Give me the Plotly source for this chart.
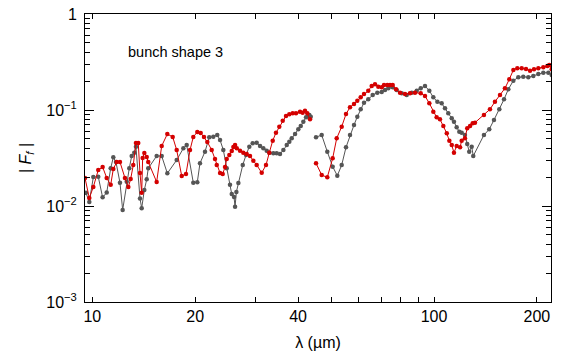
import math
import plotly.graph_objects as go

# wavelength (um) and form factor magnitude, red series (None = gap)
lam_red = [9.52, 9.80, 10.07, 10.41, 10.72, 11.02, 11.32, 11.52, 11.79, 12.05, 12.46, 12.75, 12.95, 13.18,
           13.42, 13.63, 13.79, 13.95, 14.04, 14.20, 14.43, 14.58, 15.43, 15.96, 16.58, 17.19, 17.66, 18.27,
           18.80, 19.32, 19.75, 20.29, 20.76, 21.23, 21.71, 22.36, 22.86, 23.13, 23.65, 24.08, 24.46, 24.74,
           25.18, 25.59, 25.87, 26.17, 26.47, 27.06, 27.66, 28.30, 28.94, 29.60, 30.28, 31.32, 32.24, 32.96,
           33.73, 34.48, 35.26, 36.08, 36.89, 37.72, 38.59, 39.46, 40.53, 41.27, 41.93, 42.58, 43.36, None,
           45.16, 46.92, 48.72, 50.52, 51.91, 53.69, 55.27, 56.78, 58.33, 59.64, 61.02, 62.40, 64.22, 65.72,
           67.20, 68.71, 70.31, 71.40, 72.99, 74.33, 75.70, 77.41, 79.52, 82.24, 85.07, 87.99, 91.44, 94.13,
           96.90, 99.54, 101.8, 104.1, 106.5, 109.0, 110.9, 112.7, 114.4, 116.5, 119.2, 120.5, 123.2, 125.1,
           127.5, 129.8, 131.8, 140.0, 145.8, 150.8, 156.0, 161.3, 166.1, 170.7, 175.3, 180.6, 185.9, 191.0,
           196.2, 202.0, 208.9, 214.6, 217.5, 221.1]
F_red = [0.0196, 0.0121, 0.0158, 0.0237, 0.0255, 0.0196, 0.0166, 0.0243, 0.0287, 0.0287, 0.0196, 0.0158,
         0.0191, 0.0267, 0.0453, 0.0453, 0.0221, 0.0137, 0.0316, 0.0356, 0.0324, 0.0287, 0.0178, 0.0422,
         0.0562, 0.0524, 0.0383, 0.0205, 0.0215, 0.0383, 0.0524, 0.0590, 0.0576, 0.0524, 0.0464, 0.0383,
         0.0309, 0.0267, 0.0221, 0.0215, 0.0255, 0.0309, 0.0340, 0.0374, 0.0412, 0.0432, 0.0399, 0.0377,
         0.0359, 0.0348, 0.0332, 0.0296, 0.0267, 0.0222, 0.0267, 0.0359, 0.0479, 0.0580, 0.0670, 0.0774,
         0.0866, 0.0902, 0.0924, 0.0924, 0.0959, 0.0937, 0.0984, 0.0924, 0.0800, None,
         0.0279, 0.0210, 0.0199, 0.0314, 0.0507, 0.0670, 0.0908, 0.1067, 0.1155, 0.1250, 0.1356, 0.1468,
         0.1589, 0.1778, 0.1853, 0.1750, 0.1723, 0.182, 0.182, 0.182, 0.182, 0.1643, 0.1514, 0.1468,
         0.1493, 0.1514, 0.1493, 0.140, 0.1174, 0.0959, 0.0839, 0.0800, 0.0681, 0.0572, 0.0479, 0.0432,
         0.0359, 0.0422, 0.0409, 0.0479, 0.0507, 0.0645, 0.0681, 0.0727, 0.0738, 0.0887, 0.1017, 0.122,
         0.1433, 0.1683, 0.2089, 0.261, 0.272, 0.272, 0.267, 0.257, 0.2655, 0.272, 0.2786, 0.287, 0.294,
         0.2655]

# gray series
lam_gray = [9.58, 9.80, 10.07, 10.41, 10.72, 11.02, 11.32, 11.52, 11.73, 12.05, 12.27, 12.61, 12.83, 13.04,
            13.27, 13.42, 13.79, 13.95, 14.20, 14.43, 14.58, 15.43, 15.96, 16.58, 17.66, 18.47, 18.89, 19.75,
            20.29, 20.66, 21.37, 21.99, 22.60, 23.21, 23.65, 24.18, 24.74, 25.29, 25.59, 25.99, 26.17, 26.40,
            26.76, 27.56, 28.18, 28.81, 29.47, 30.28, 30.97, 31.66, 32.39, 32.96, 33.86, 34.64, 35.43, 36.24,
            37.08, 37.72, 38.34, 39.21, 40.08, 40.74, 41.46, 42.22, 42.71, 43.17, 43.58, None,
            45.16, 46.92, 48.72, 50.52, 52.12, 53.69, 55.27, 56.78, 58.33, 59.64, 61.02, 62.40, 64.22, 66.16,
            68.26, 70.31, 71.89, 73.50, 75.70, 77.76, 80.45, 83.20, 86.06, 89.03, 91.44, 94.13, 96.90, 99.54,
            102.3, 105.3, 107.7, 110.1, 112.7, 114.4, 116.5, 118.6, 120.5, 123.2, 125.1, 126.8, 128.9, 130.3,
            140.0, 145.1, 149.8, 155.3, 160.3, 165.0, 170.7, 176.5, 182.5, 188.8, 195.3, 202.0, 208.9, 216.1,
            221.1]
F_gray = [0.0137, 0.0110, 0.0200, 0.0202, 0.0123, 0.0138, 0.0247, 0.0322, 0.0287, 0.0175, 0.0091, 0.0179,
          0.0247, 0.0332, 0.0359, 0.0415, 0.0120, 0.0095, 0.0147, 0.0190, 0.0247, 0.0332, 0.0332, 0.0219,
          0.0301, 0.0399, 0.0432, 0.0175, 0.0177, 0.0279, 0.0368, 0.0520, 0.0527, 0.0549, 0.0487, 0.0383,
          0.0247, 0.0166, 0.0133, 0.0124, 0.0098, 0.0140, 0.0174, 0.0267, 0.0340, 0.0415, 0.0450, 0.0457,
          0.0422, 0.0399, 0.0377, 0.0359, 0.0354, 0.0354, 0.0348, 0.0383, 0.0432, 0.0468, 0.0507, 0.0562,
          0.0630, 0.0681, 0.0755, 0.0839, 0.0866, 0.0887, 0.0851, None,
          0.0520, 0.0549, 0.0368, 0.0257, 0.0207, 0.0267, 0.0409, 0.0549, 0.0698, 0.0851, 0.1017, 0.1192,
          0.1292, 0.1433, 0.1514, 0.154, 0.1616, 0.1683, 0.1723, 0.1616, 0.1493, 0.1433, 0.1514, 0.1589,
          0.1683, 0.1778, 0.1589, 0.1356, 0.122, 0.1174, 0.1042, 0.0924, 0.0820, 0.0755, 0.0661, 0.0594,
          0.058, 0.0549, 0.0443, 0.0368, 0.0415, 0.0332, 0.0549, 0.0630, 0.0787, 0.1017, 0.1292, 0.1643,
          0.2018, 0.219, 0.2223, 0.219, 0.226, 0.237, 0.2447, 0.2447, 0.2314]

x_tickvals = [10, 20, 40, 100, 200]
x_ticktext = ["10", "20", "40", "100", "200"]
x_minor = [30, 50, 60, 70, 80, 90]
x_long = [10, 100]
y_tickvals = [1e-3, 1e-2, 1e-1, 1]
y_ticktext = ["10<sup>\u22123</sup>", "10<sup>\u22122</sup>", "10<sup>\u22121</sup>", "1"]
y_minor = [m * 10.0 ** e for e in (-3, -2, -1) for m in range(2, 10)]
x_range = [9.52, 220]
y_range = [1e-3, 1]

FONT = "Liberation Sans, Arial, sans-serif"
RED = "#d40000"
GRAY = "#555555"

fig = go.Figure()
fig.add_trace(go.Scatter(x=lam_gray, y=F_gray, mode="lines+markers",
                         line=dict(color=GRAY, width=1), marker=dict(color=GRAY, size=4.5),
                         connectgaps=False, showlegend=False, hoverinfo="skip"))
fig.add_trace(go.Scatter(x=lam_red, y=F_red, mode="lines+markers",
                         line=dict(color=RED, width=1), marker=dict(color=RED, size=4.5),
                         connectgaps=False, showlegend=False, hoverinfo="skip"))

xr = [math.log10(v) for v in x_range]
yr = [math.log10(v) for v in y_range]

fig.update_layout(
    width=561, height=355,
    margin=dict(l=85, r=10, t=14, b=53),
    paper_bgcolor="white", plot_bgcolor="white",
    font=dict(family=FONT, size=16, color="black"),
    xaxis=dict(type="log", range=xr, tickvals=x_tickvals, ticktext=x_ticktext, automargin=False,
               ticks="inside", ticklen=5, tickwidth=1, tickcolor="black",
               minor=dict(tickvals=x_minor, ticks="inside", ticklen=5, tickwidth=1, tickcolor="black"),
               showline=True, linecolor="black", linewidth=1, mirror="ticks",
               showgrid=False, zeroline=False,
               title=dict(text="\u03bb (\u00b5m)", standoff=12, font=dict(size=16))),
    xaxis2=dict(type="log", range=xr, overlaying="x", anchor="y", side="bottom", automargin=False,
                tickvals=x_long, ticks="inside", ticklen=9, tickwidth=1, tickcolor="black",
                showticklabels=False, showline=True, linecolor="black", linewidth=1, mirror="ticks",
                showgrid=False, zeroline=False),
    yaxis=dict(type="log", range=yr, tickvals=y_tickvals, ticktext=y_ticktext, automargin=False,
               ticks="inside", ticklen=9, tickwidth=1, tickcolor="black", ticklabelstandoff=4,
               minor=dict(tickvals=y_minor, ticks="inside", ticklen=5, tickwidth=1, tickcolor="black"),
               showline=True, linecolor="black", linewidth=1, mirror="ticks",
               showgrid=False, zeroline=False,
               title=dict(text="| <i>F</i><sub><i>f</i></sub> |", standoff=10, font=dict(size=16))),
    annotations=[dict(text="bunch shape 3", xref="paper", yref="paper", x=0.087, y=0.868,
                      xanchor="left", yanchor="middle", showarrow=False,
                      font=dict(family=FONT, size=14.5, color="black"))],
)

fig.write_html("out.html", config={"displayModeBar": False},
               post_script="document.body.style.margin='0';document.body.style.padding='0';")
